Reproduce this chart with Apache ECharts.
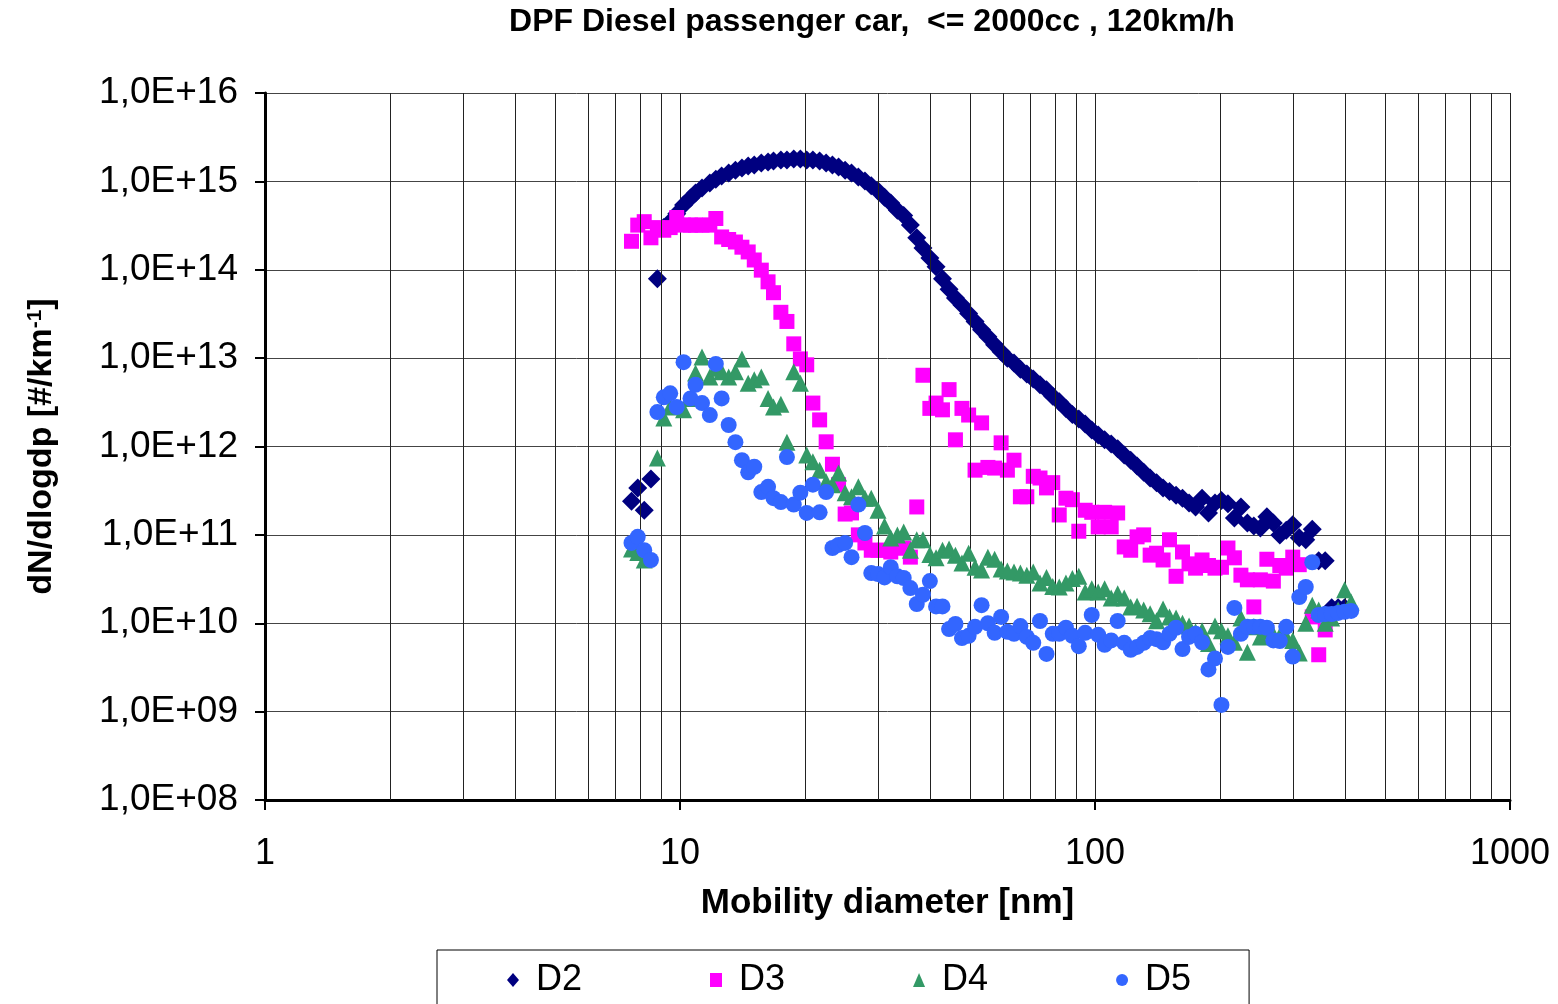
<!DOCTYPE html>
<html>
<head>
<meta charset="utf-8">
<title>DPF Diesel passenger car, &lt;= 2000cc, 120km/h</title>
<script src="https://cdn.jsdelivr.net/npm/echarts@6/dist/echarts.min.js"></script>
<style>
  html, body { margin: 0; padding: 0; background: #fff; }
  #chart { width: 1558px; height: 1004px; }
</style>
</head>
<body>
<div id="chart"></div>
<script>
// SMPS channel mid-point diameters [nm]
const diameters = [
  7.37, 7.64, 7.91, 8.20, 8.51, 8.82, 9.14, 9.47, 9.82, 10.2,
  10.6, 10.9, 11.3, 11.8, 12.2, 12.6, 13.1, 13.6, 14.1, 14.6,
  15.1, 15.7, 16.3, 16.8, 17.5, 18.1, 18.8, 19.5, 20.2, 20.9,
  21.7, 22.5, 23.3, 24.1, 25.0, 25.9, 26.9, 27.9, 28.9, 30.0,
  31.1, 32.2, 33.4, 34.6, 35.9, 37.2, 38.5, 40.0, 41.4, 42.9,
  44.5, 46.1, 47.8, 49.6, 51.4, 53.3, 55.2, 57.3, 59.4, 61.5,
  63.8, 66.1, 68.5, 71.0, 73.7, 76.4, 79.1, 82.0, 85.1, 88.2,
  91.4, 94.7, 98.2, 101.8, 105.5, 109.4, 113.4, 117.6, 121.9, 126.3,
  131.0, 135.8, 140.7, 145.9, 151.2, 156.8, 162.5, 168.5, 174.7, 181.1,
  187.7, 194.6, 201.7, 209.1, 216.7, 224.7, 232.9, 241.4, 250.3, 259.5,
  269.0, 278.8, 289.0, 299.6, 310.6, 322.0, 333.8, 346.0, 358.7, 371.8,
  385.4, 399.5, 414.2
];

// dN/dlogdp [#/km] per channel (null = no point)
const d2 = [
  null, 2.4e11, 3.4e11, 1.9e11, 4.3e11, 7.9e13, 3.0e14, 3.5e14, 4.3e14, 5.4e14,
  6.5e14, 7.4e14, 8.4e14, 9.6e14, 1.06e15, 1.15e15, 1.24e15, 1.34e15, 1.42e15, 1.49e15,
  1.53e15, 1.61e15, 1.66e15, 1.70e15, 1.75e15, 1.75e15, 1.79e15, 1.79e15, 1.75e15, 1.75e15,
  1.70e15, 1.61e15, 1.53e15, 1.45e15, 1.34e15, 1.24e15, 1.12e15, 1.01e15, 8.9e14, 7.8e14,
  6.6e14, 5.7e14, 4.7e14, 4.1e14, 3.2e14, 2.3e14, 1.76e14, 1.36e14, 1.08e14, 7.9e13,
  6.0e13, 4.8e13, 4.0e13, 3.2e13, 2.6e13, 2.1e13, 1.74e13, 1.42e13, 1.18e13, 1.0e13,
  8.8e12, 7.5e12, 6.6e12, 5.8e12, 5.0e12, 4.4e12, 3.7e12, 3.2e12, 2.7e12, 2.3e12,
  2.05e12, 1.8e12, 1.54e12, 1.35e12, 1.19e12, 1.07e12, 9.4e11, 8.0e11, 7.0e11, 6.0e11,
  5.1e11, 4.4e11, 3.9e11, 3.4e11, 3.1e11, 2.8e11, 2.6e11, 2.3e11, 2.07e11, 2.6e11,
  1.77e11, 2.3e11, 2.45e11, 2.25e11, 1.55e11, 2.07e11, 1.36e11, 1.26e11, 1.2e11, 1.6e11,
  1.36e11, 1.0e11, 1.13e11, 1.3e11, 9.3e10, 8.8e10, 1.16e11, 5.1e10, 5.1e10, 1.5e10,
  1.5e10, 1.5e10, null
];

const d3 = [
  null, 2.1e14, 3.2e14, 3.5e14, 2.3e14, 3.0e14, 2.8e14, 3.0e14, 3.9e14, 3.2e14,
  3.2e14, 3.2e14, 3.2e14, 3.2e14, 3.8e14, 2.35e14, 2.2e14, 2.06e14, 1.8e14, 1.59e14,
  1.29e14, 9.9e13, 7.3e13, 5.5e13, 3.3e13, 2.6e13, 1.45e13, 9.8e12, 8.4e12, 3.1e12,
  2.0e12, 1.13e12, 6.3e11, 3.7e11, 1.72e11, 1.77e11, 1.0e11, 8.1e10, 6.7e10, 6.7e10,
  6.7e10, 6.4e10, 7.1e10, 7.1e10, 5.6e10, 2.07e11, 6.4e12, 2.7e12, 3.1e12, 2.6e12,
  4.4e12, 1.19e12, 2.7e12, 2.27e12, 5.4e11, 1.85e12, 5.8e11, 5.7e11, 1.1e12, 5.4e11,
  7.0e11, 2.7e11, 2.7e11, 4.6e11, 4.4e11, 3.4e11, 3.9e11, 1.68e11, 2.6e11, 2.5e11,
  1.1e11, 1.9e11, 1.8e11, 1.23e11, 1.8e11, 1.23e11, 1.77e11, 7.3e10, 6.7e10, 9.5e10,
  1.0e11, 5.9e10, 6.2e10, 5.2e10, 8.8e10, 3.4e10, 6.4e10, 4.7e10, 4.2e10, 5.2e10,
  4.5e10, 4.2e10, 4.3e10, 7.1e10, 5.5e10, 3.5e10, 3.1e10, 1.53e10, 3.1e10, 5.3e10,
  3.0e10, 4.5e10, 4.2e10, 5.6e10, 4.6e10, null, 1.18e10, 4.4e9, 8.4e9, null,
  null, null, null
];

const d4 = [
  null, 6.9e10, 6.3e10, 5.2e10, null, 7.4e11, 2.1e12, 2.8e12, null, 2.6e12,
  3.5e12, 6.8e12, 1.03e13, 6.1e12, 7.7e12, 7.0e12, 6.1e12, 7.0e12, 9.8e12, 5.2e12,
  5.7e12, 6.1e12, 3.5e12, 2.8e12, 3.0e12, 1.12e12, 7.0e12, 5.2e12, 8.0e11, 6.7e11,
  5.4e11, 4.0e11, 3.7e11, 5.0e11, 3.0e11, 2.7e11, 3.5e11, 2.6e11, 2.6e11, 1.9e11,
  1.26e11, 9.2e10, 1.0e11, 1.08e11, 6.7e10, 8.8e10, 8.8e10, 6.0e10, 5.5e10, 6.7e10,
  6.9e10, 5.9e10, 4.8e10, 6.2e10, 4.3e10, 4.0e10, 5.6e10, 5.3e10, 4.1e10, 3.9e10,
  3.8e10, 3.7e10, 3.5e10, 3.8e10, 2.85e10, 3.3e10, 2.6e10, 2.57e10, 2.85e10, 3.2e10,
  3.4e10, 2.26e10, 2.45e10, 2.26e10, 2.45e10, 1.93e10, 2.15e10, 1.93e10, 1.53e10, 1.56e10,
  1.41e10, 1.28e10, 1.07e10, 1.45e10, 1.18e10, 1.15e10, 1.0e10, 9.3e9, 8.0e9, 8.2e9,
  5.9e9, 9.3e9, 8.2e9, 7.2e9, 6.1e9, 1.15e10, 4.7e9, 9.1e9, 7.0e9, 8.2e9,
  7.4e9, 7.2e9, 7.0e9, 6.4e9, 4.6e9, 1.0e10, 1.6e10, 1.41e10, 1.0e10, 1.15e10,
  1.41e10, 2.4e10, 1.74e10
];

const d5 = [
  null, 8.1e10, 9.5e10, 6.7e10, 5.2e10, 2.45e12, 3.6e12, 4.0e12, 2.8e12, 9.0e12,
  3.5e12, 5.0e12, 3.1e12, 2.27e12, 8.6e12, 3.5e12, 1.75e12, 1.12e12, 7.0e11, 5.1e11,
  5.9e11, 3.05e11, 3.5e11, 2.6e11, 2.35e11, 7.6e11, 2.2e11, 3.0e11, 1.77e11, 3.7e11,
  1.8e11, 3.05e11, 7.1e10, 7.7e10, 8.1e10, 5.6e10, 2.2e11, 1.05e11, 3.7e10, 3.6e10,
  3.3e10, 4.3e10, 3.4e10, 3.25e10, 2.5e10, 1.65e10, 2.1e10, 3.0e10, 1.55e10, 1.55e10,
  8.6e9, 9.8e9, 6.8e9, 7.2e9, 9.1e9, 1.6e10, 1.0e10, 7.8e9, 1.18e10, 8.0e9,
  7.6e9, 9.3e9, 7.0e9, 6.0e9, 1.06e10, 4.5e9, 7.6e9, 7.6e9, 8.9e9, 7.2e9,
  5.5e9, 7.8e9, 1.24e10, 7.4e9, 5.7e9, 6.4e9, 1.06e10, 6.0e9, 5.0e9, 5.4e9,
  6.0e9, 6.8e9, 6.6e9, 6.1e9, 7.6e9, 8.9e9, 5.1e9, 7.0e9, 7.6e9, 6.1e9,
  3.0e9, 4.0e9, 1.19e9, 5.4e9, 1.49e10, 7.6e9, 9.1e9, 9.1e9, 9.1e9, 8.9e9,
  6.4e9, 6.3e9, 9.1e9, 4.2e9, 1.98e10, 2.57e10, 4.9e10, 1.24e10, 1.27e10, 1.27e10,
  1.31e10, 1.35e10, 1.38e10
];

const seriesNames = ['D2', 'D3', 'D4', 'D5'];
const xTickLabels = ['1', '10', '100', '1000'];
const yTickLabels = ['1,0E+08', '1,0E+09', '1,0E+10', '1,0E+11', '1,0E+12',
                     '1,0E+13', '1,0E+14', '1,0E+15', '1,0E+16'];
// intermediate vertical grid lines of the log x axis
const xMinorGrid = [2, 3, 4, 5, 6, 7, 8, 9, 20, 30, 40, 50, 60, 70, 80, 90,
                    200, 300, 400, 500, 600, 700, 800, 900];

const FONT = '"Liberation Sans", Arial, Helvetica, sans-serif';

function pairs(values) {
  const out = [];
  values.forEach((v, i) => { if (v != null) out.push([diameters[i], v]); });
  return out;
}

const styles = [
  { symbol: 'diamond',  size: 19, color: '#000080' },
  { symbol: 'rect',     size: 15, color: '#FF00FF' },
  { symbol: 'triangle', size: 17, color: '#339966' },
  { symbol: 'circle',   size: 16, color: '#3366FF' }
];
const seriesValues = [d2, d3, d4, d5];

const chart = echarts.init(document.getElementById('chart'), null, { renderer: 'canvas' });

const series = [{
  name: 'grid',
  type: 'scatter',
  data: [],
  silent: true,
  markLine: {
    silent: true,
    symbol: 'none',
    animation: false,
    label: { show: false },
    lineStyle: { color: '#222', width: 1, type: 'solid' },
    emphasis: { disabled: true },
    data: xMinorGrid.map(v => ({ xAxis: v }))
  }
}].concat(seriesNames.map((name, k) => ({
  name: name,
  type: 'scatter',
  data: pairs(seriesValues[k]),
  symbol: styles[k].symbol,
  symbolSize: styles[k].size,
  itemStyle: { color: styles[k].color, opacity: 1 },
  z: 3 + k
})));

chart.setOption({
  animation: false,
  backgroundColor: '#ffffff',
  textStyle: { fontFamily: FONT, color: '#000' },
  grid: { left: 265, right: 48, top: 93, bottom: 204, containLabel: false },
  graphic: [{
    type: 'text',
    x: 872, y: 22,
    style: {
      text: 'DPF Diesel passenger car,  <= 2000cc , 120km/h',
      fill: '#000',
      font: 'bold 32px ' + FONT,
      textAlign: 'center', textVerticalAlign: 'middle',
      align: 'center', verticalAlign: 'middle'
    }
  }],
  legend: {
    data: seriesNames.map((n, k) => ({ name: n, icon: styles[k].symbol })),
    orient: 'horizontal',
    left: 437, top: 950,
    padding: [12, 58, 30, 70],
    itemGap: 128,
    itemWidth: 12, itemHeight: 14,
    borderColor: '#000', borderWidth: 1, borderRadius: 0,
    selectedMode: false,
    textStyle: { fontSize: 36, color: '#000', fontFamily: FONT, padding: [0, 0, 0, 12] }
  },
  xAxis: {
    type: 'log', logBase: 10, min: 1, max: 1000, splitNumber: 3,
    name: 'Mobility diameter [nm]',
    nameLocation: 'middle', nameGap: 86,
    nameTextStyle: { fontSize: 35, fontWeight: 'bold', color: '#000', fontFamily: FONT },
    axisLine: { show: true, onZero: false, lineStyle: { color: '#000', width: 3 } },
    axisTick: { show: true, inside: false, length: 10, lineStyle: { color: '#000', width: 2 } },
    axisLabel: {
      fontSize: 36, color: '#000', margin: 36, fontFamily: FONT,
      formatter: v => xTickLabels[Math.round(Math.log10(v))]
    },
    splitLine: { show: true, lineStyle: { color: '#222', width: 1 } },
    minorTick: { show: false }, minorSplitLine: { show: false }
  },
  yAxis: {
    type: 'log', logBase: 10, min: 1e8, max: 1e16, splitNumber: 8,
    name: '{a|dN/dlogdp [#/km}{s|-1}{a|]}',
    nameLocation: 'middle', nameGap: 206, nameRotate: 90,
    nameTextStyle: {
      color: '#000', fontFamily: FONT,
      rich: {
        a: { fontSize: 34, fontWeight: 'bold', color: '#000', fontFamily: FONT },
        s: { fontSize: 21, fontWeight: 'bold', color: '#000', fontFamily: FONT, verticalAlign: 'top' }
      }
    },
    axisLine: { show: true, onZero: false, lineStyle: { color: '#000', width: 3 } },
    axisTick: { show: true, inside: false, length: 10, lineStyle: { color: '#000', width: 2 } },
    axisLabel: {
      fontSize: 37, color: '#000', margin: 27, fontFamily: FONT,
      formatter: v => yTickLabels[Math.round(Math.log10(v)) - 8]
    },
    splitLine: { show: true, lineStyle: { color: '#444', width: 1 } }
  },
  series: series
});
</script>
</body>
</html>
